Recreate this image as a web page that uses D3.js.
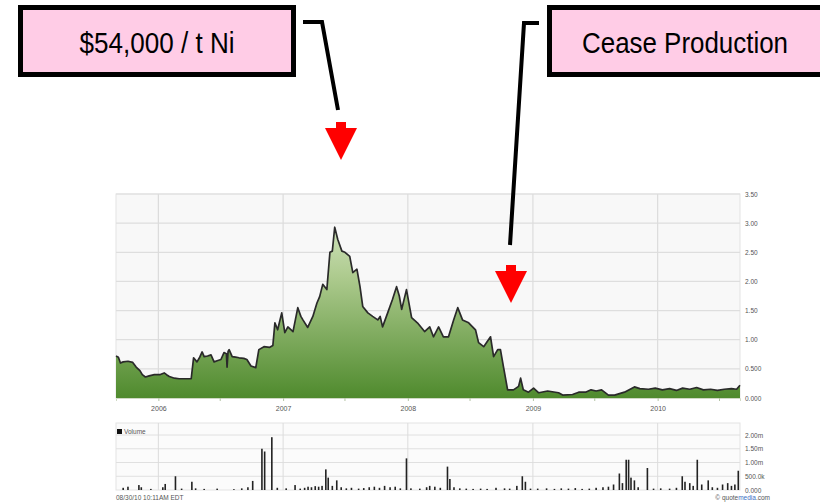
<!DOCTYPE html>
<html><head><meta charset="utf-8">
<script src="https://cdn.jsdelivr.net/npm/d3@7"></script>
<style>body{margin:0;background:#fff}svg{display:block}</style>
</head><body><svg id="c" width="820" height="504"></svg>
<script>
const priceSeries = [
["2005-08-30",0.72],["2005-09-06",0.70],["2005-09-12",0.60],["2005-09-20",0.62],["2005-10-04",0.63],["2005-10-18",0.61],
["2005-10-28",0.53],["2005-11-08",0.47],["2005-11-15",0.40],["2005-11-24",0.36],["2005-12-05",0.38],["2005-12-20",0.40],
["2006-01-05",0.40],["2006-01-18",0.43],["2006-01-25",0.40],["2006-02-02",0.37],["2006-02-17",0.34],["2006-03-03",0.33],
["2006-03-20",0.33],["2006-04-07",0.33],["2006-04-14",0.69],["2006-04-24",0.62],["2006-05-02",0.70],["2006-05-09",0.79],
["2006-05-15",0.71],["2006-05-25",0.72],["2006-06-04",0.74],["2006-06-13",0.62],["2006-06-22",0.64],["2006-07-03",0.66],
["2006-07-12",0.78],["2006-07-19",0.76],["2006-07-21",0.53],["2006-07-24",0.80],["2006-07-27",0.83],["2006-08-05",0.71],
["2006-08-15",0.70],["2006-08-25",0.69],["2006-09-08",0.68],["2006-09-17",0.66],["2006-09-29",0.55],["2006-10-13",0.52],
["2006-10-22",0.83],["2006-11-06",0.88],["2006-11-23",0.87],["2006-12-02",0.90],["2006-12-08",1.29],["2006-12-16",1.17],
["2006-12-28",1.46],["2007-01-06",1.12],["2007-01-15",1.22],["2007-01-30",1.14],["2007-02-13",1.55],["2007-02-22",1.40],
["2007-02-28",1.34],["2007-03-14",1.21],["2007-03-29",1.40],["2007-04-10",1.63],["2007-04-18",1.74],["2007-04-27",1.95],
["2007-05-09",1.86],["2007-05-18",2.50],["2007-05-25",2.52],["2007-06-01",2.93],["2007-06-10",2.72],["2007-06-22",2.52],
["2007-07-01",2.50],["2007-07-15",2.43],["2007-07-24",2.15],["2007-08-05",2.21],["2007-08-14",1.91],["2007-08-22",1.57],
["2007-09-06",1.46],["2007-09-20",1.40],["2007-10-05",1.34],["2007-10-12",1.40],["2007-10-19",1.22],["2007-11-03",1.46],
["2007-11-17",1.69],["2007-11-29",1.91],["2007-12-07",1.75],["2007-12-14",1.52],["2007-12-28",1.86],["2008-01-12",1.38],
["2008-01-29",1.29],["2008-02-19",1.14],["2008-03-05",1.22],["2008-03-16",1.05],["2008-03-31",1.22],["2008-04-14",1.05],
["2008-04-29",1.05],["2008-05-14",1.34],["2008-05-26",1.55],["2008-06-09",1.34],["2008-06-27",1.29],["2008-07-17",1.17],
["2008-07-26",0.95],["2008-08-10",0.88],["2008-08-30",1.05],["2008-09-08",0.71],["2008-09-20",0.83],["2008-09-28",0.83],
["2008-10-07",0.53],["2008-10-19",0.14],["2008-11-05",0.14],["2008-11-20",0.20],["2008-11-26",0.34],["2008-12-04",0.14],
["2008-12-19",0.10],["2009-01-03",0.17],["2009-01-18",0.09],["2009-02-13",0.12],["2009-03-17",0.09],["2009-03-29",0.05],
["2009-04-27",0.06],["2009-05-15",0.10],["2009-06-04",0.10],["2009-06-20",0.14],["2009-07-05",0.12],["2009-07-21",0.14],
["2009-08-10",0.05],["2009-08-28",0.05],["2009-09-26",0.10],["2009-10-25",0.19],["2009-11-10",0.16],["2009-12-05",0.15],
["2009-12-25",0.17],["2010-01-15",0.14],["2010-02-05",0.16],["2010-02-25",0.13],["2010-03-15",0.17],["2010-04-05",0.15],
["2010-04-25",0.18],["2010-05-15",0.14],["2010-06-05",0.15],["2010-06-25",0.13],["2010-07-15",0.15],["2010-08-05",0.16],
["2010-08-20",0.15],["2010-08-30",0.22]
];
const volumeSeries = [
["2005-09-20",0.08],["2005-10-04",0.12],["2005-11-05",0.18],["2005-11-12",0.10],["2005-12-10",0.04],["2006-01-14",0.10],
["2006-01-21",0.22],["2006-02-20",0.50],["2006-03-10",0.05],["2006-04-09",0.30],["2006-04-20",0.06],["2006-05-15",0.04],
["2006-06-22",0.05],["2006-08-10",0.03],["2006-09-02",0.06],["2006-09-20",0.10],["2006-10-04",0.33],["2006-10-31",1.50],
["2006-11-08",1.40],["2006-11-29",1.92],["2006-12-15",0.08],["2007-01-10",0.06],["2007-02-05",0.18],["2007-02-20",0.05],
["2007-03-05",0.08],["2007-03-15",0.12],["2007-03-25",0.10],["2007-04-05",0.14],["2007-04-15",0.12],["2007-04-25",0.15],
["2007-05-06",0.75],["2007-05-13",0.45],["2007-05-25",0.15],["2007-06-07",0.35],["2007-06-20",0.10],["2007-07-05",0.06],
["2007-07-20",0.08],["2007-08-10",0.05],["2007-08-25",0.07],["2007-09-10",0.10],["2007-09-25",0.12],["2007-10-10",0.08],
["2007-10-25",0.15],["2007-11-10",0.10],["2007-11-25",0.12],["2007-12-10",0.06],["2007-12-28",1.15],["2008-01-10",0.06],
["2008-02-05",0.05],["2008-02-25",0.10],["2008-03-05",0.15],["2008-03-20",0.12],["2008-04-05",0.08],["2008-04-26",0.85],
["2008-05-03",0.40],["2008-05-15",0.10],["2008-06-01",0.06],["2008-06-20",0.05],["2008-07-10",0.04],["2008-08-01",0.05],
["2008-08-20",0.04],["2008-09-15",0.08],["2008-10-10",0.06],["2008-10-25",0.05],["2008-11-15",0.15],["2008-12-01",0.50],
["2008-12-10",0.30],["2008-12-25",0.05],["2009-01-15",0.05],["2009-02-10",0.06],["2009-03-05",0.04],["2009-03-25",0.06],
["2009-04-15",0.05],["2009-05-05",0.07],["2009-05-25",0.04],["2009-06-15",0.05],["2009-07-05",0.08],["2009-07-25",0.10],
["2009-08-10",0.12],["2009-08-25",0.20],["2009-09-11",0.60],["2009-09-20",0.25],["2009-10-01",1.10],["2009-10-08",1.10],
["2009-10-15",0.45],["2009-10-25",0.35],["2009-11-05",0.10],["2009-12-02",0.80],["2009-12-20",0.05],["2010-01-10",0.06],
["2010-02-05",0.05],["2010-02-25",0.08],["2010-03-14",0.50],["2010-03-22",0.30],["2010-04-05",0.25],["2010-04-15",0.15],
["2010-04-27",1.10],["2010-05-10",0.20],["2010-05-29",0.35],["2010-06-10",0.10],["2010-06-25",0.08],["2010-07-10",0.20],
["2010-07-25",0.25],["2010-08-05",0.15],["2010-08-15",0.20],["2010-08-25",0.70]
];
const dateRange = ["2005-08-30","2010-08-30"];
const yearTicks = ["2006-01-01","2007-01-01","2008-01-01","2009-01-01","2010-01-01"];
const yearLabels = ["2006","2007","2008","2009","2010"];
const midYearTicks = ["2005-07-01","2006-07-01","2007-07-01","2008-07-01","2009-07-01","2010-07-01"];
const priceTicks = [0,0.5,1,1.5,2,2.5,3,3.5];
const priceTickLabels = ["0.000","0.500","1.00","1.50","2.00","2.50","3.00","3.50"];
const volumeTicks = [0,0.5,1,1.5,2];
const volumeTickLabels = ["0.000","500.0k","1.00m","1.50m","2.00m"];
const calloutTexts = ["$54,000 / t Ni","Cease Production"];
const timestampText = "08/30/10 10:11AM EDT";

const svg = d3.select("#c");
const parse = d3.timeParse("%Y-%m-%d");
const L = 116, R = 740, PT = 194, PB = 398, VT = 423, VB = 490;
const x = d3.scaleTime().domain(dateRange.map(parse)).range([L, R]);
const y = d3.scaleLinear().domain([0, 3.5]).range([PB, PT]);
const yv = d3.scaleLinear().domain([0, 2]).range([VB, 435]);

const defs = svg.append("defs");
const g = defs.append("linearGradient").attr("id","gf").attr("gradientUnits","userSpaceOnUse")
  .attr("x1",0).attr("x2",0).attr("y1",PT).attr("y2",PB);
g.append("stop").attr("offset","0%").attr("stop-color","#e3f0d6");
g.append("stop").attr("offset","40%").attr("stop-color","#aecb8f");
g.append("stop").attr("offset","100%").attr("stop-color","#4f8a2d");

const font = "Liberation Sans, Arial, sans-serif";

// price panel
svg.append("rect").attr("x",L).attr("y",PT).attr("width",R-L).attr("height",PB-PT)
  .attr("fill","#f8f8f8").attr("stroke","#e3e3e3");
svg.append("g").selectAll("line").data(priceTicks.slice(1)).join("line")
  .attr("x1",L).attr("x2",R).attr("y1",d=>y(d)).attr("y2",d=>y(d))
  .attr("stroke","#dedede").attr("stroke-width",1.2);
svg.append("g").selectAll("line").data(yearTicks).join("line")
  .attr("x1",d=>x(parse(d))).attr("x2",d=>x(parse(d))).attr("y1",PT).attr("y2",PB)
  .attr("stroke","#dcdcdc").attr("stroke-width",1.2);

const pdata = priceSeries.map(d=>({date:parse(d[0]), v:d[1]}));
svg.append("path").datum(pdata)
  .attr("d", d3.area().x(d=>x(d.date)).y0(PB).y1(d=>y(d.v)))
  .attr("fill","url(#gf)");
svg.append("path").datum(pdata)
  .attr("d", d3.line().x(d=>x(d.date)).y(d=>y(d.v)))
  .attr("fill","none").attr("stroke","#2a2a2a").attr("stroke-width",1.7).attr("stroke-linejoin","round");

// axes
const xAxis = d3.axisBottom(x).tickValues(yearTicks.map(parse)).tickFormat((d,i)=>yearLabels[i]).tickSize(3).tickPadding(5);
const ax = svg.append("g").attr("transform",`translate(0,${PB})`).call(xAxis);
ax.select(".domain").attr("stroke","#cfd9c4");
ax.selectAll("line").attr("stroke","#b5c4a6");
ax.selectAll("text").attr("font-family",font).attr("font-size",7).attr("fill","#555");
svg.append("g").selectAll("line").data(midYearTicks.map(parse).filter(d=>x(d)>L)).join("line")
  .attr("x1",d=>x(d)).attr("x2",d=>x(d)).attr("y1",PB).attr("y2",PB+3).attr("stroke","#b5c4a6");

const yAxis = d3.axisRight(y).tickValues(priceTicks).tickFormat((d,i)=>priceTickLabels[i]).tickSize(0).tickPadding(5);
const ay = svg.append("g").attr("transform",`translate(${R},0)`).call(yAxis);
ay.select(".domain").remove();
ay.selectAll("text").attr("font-family",font).attr("font-size",6.5).attr("fill","#555");

// volume panel
svg.append("rect").attr("x",L).attr("y",VT).attr("width",R-L).attr("height",VB-VT)
  .attr("fill","#fbfbfb").attr("stroke","#e3e3e3");
svg.append("g").selectAll("line").data(volumeTicks.slice(1)).join("line")
  .attr("x1",L).attr("x2",R).attr("y1",d=>yv(d)).attr("y2",d=>yv(d))
  .attr("stroke","#e0e0e0");
svg.append("g").selectAll("line").data(yearTicks).join("line")
  .attr("x1",d=>x(parse(d))).attr("x2",d=>x(parse(d))).attr("y1",VT).attr("y2",VB)
  .attr("stroke","#dcdcdc");
svg.append("g").selectAll("rect").data(volumeSeries).join("rect")
  .attr("x",d=>x(parse(d[0]))-0.8).attr("width",1.6)
  .attr("y",d=>yv(d[1])).attr("height",d=>VB-yv(d[1]))
  .attr("fill","#222");
const avy = svg.append("g").attr("transform",`translate(${R},0)`)
  .call(d3.axisRight(yv).tickValues(volumeTicks).tickFormat((d,i)=>volumeTickLabels[i]).tickSize(0).tickPadding(5));
avy.select(".domain").remove();
avy.selectAll("text").attr("font-family",font).attr("font-size",6.5).attr("fill","#555");
svg.append("rect").attr("x",117).attr("y",429).attr("width",5).attr("height",5).attr("fill","#111");
svg.append("text").attr("x",124).attr("y",434).text("Volume")
  .attr("font-family",font).attr("font-size",6.5).attr("fill","#555");
svg.append("text").attr("x",116).attr("y",500).text(timestampText)
  .attr("font-family",font).attr("font-size",6.5).attr("fill","#555");
const qm = svg.append("text").attr("x",770).attr("y",500).attr("text-anchor","end")
  .attr("font-family",font).attr("font-size",6.5).attr("fill","#555");
qm.append("tspan").text("© quote");
qm.append("tspan").attr("fill","#3a6fc4").text("media");
qm.append("tspan").text(".com");

// callouts
const boxFont = "Liberation Sans Narrow, Arial Narrow, Liberation Sans, sans-serif";
const boxes = [{x:20.5,y:7.5,w:273,h:67,tx:157,fs:29,tl:155},{x:549.5,y:7.5,w:285,h:67,tx:685,fs:30,tl:206}];
boxes.forEach((b,i)=>{
  svg.append("rect").attr("x",b.x).attr("y",b.y).attr("width",b.w).attr("height",b.h)
    .attr("fill","#ffcce6").attr("stroke","#000").attr("stroke-width",5);
  svg.append("text").attr("x",b.tx).attr("y",53).attr("text-anchor","middle")
    .attr("textLength",b.tl).attr("lengthAdjust","spacingAndGlyphs")
    .attr("font-family",boxFont).attr("font-size",b.fs).attr("fill","#000").text(calloutTexts[i]);
});
svg.append("polyline").attr("points","303,22 322,22 338,110")
  .attr("fill","none").attr("stroke","#000").attr("stroke-width",4);
svg.append("polyline").attr("points","539,23 524,23 510,245")
  .attr("fill","none").attr("stroke","#000").attr("stroke-width",4);
function arrow(cx, top){
  svg.append("rect").attr("x",cx-5).attr("y",top).attr("width",10).attr("height",8).attr("fill","#ff0000");
  svg.append("path").attr("d",`M${cx-16},${top+6}L${cx+16},${top+6}L${cx},${top+38}Z`).attr("fill","#ff0000");
}
arrow(341,122);
arrow(511,265);
</script></body></html>
